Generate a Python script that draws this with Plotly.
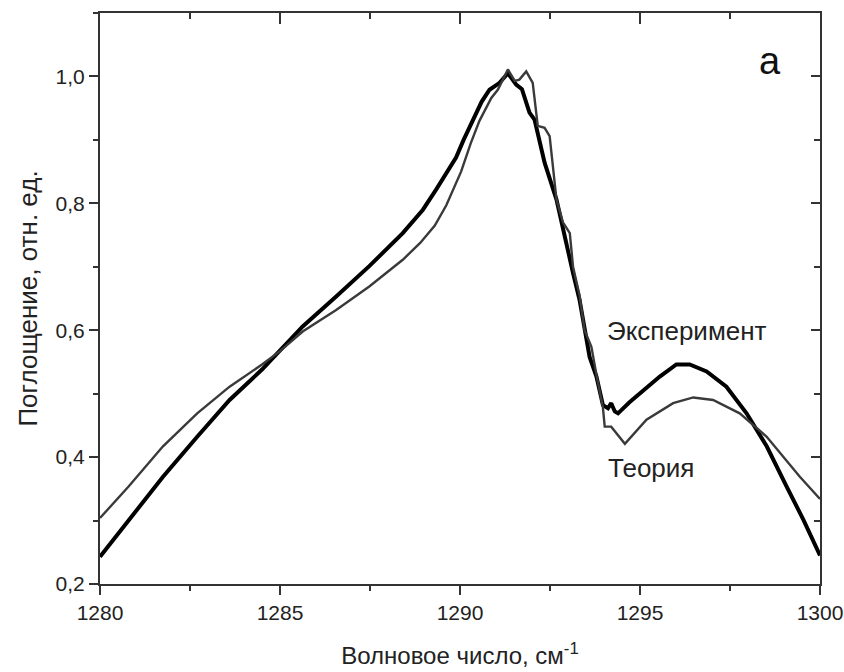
import plotly.graph_objects as go

exp_x = [1280.0, 1280.8, 1281.75, 1282.7, 1283.6, 1284.5, 1285.0, 1285.63, 1286.56, 1287.48,
         1288.41, 1288.97, 1289.34, 1289.6, 1289.89, 1290.1, 1290.36, 1290.6, 1290.82, 1291.1,
         1291.33, 1291.56, 1291.72, 1291.93, 1292.07, 1292.35, 1292.68, 1292.86, 1293.14, 1293.32,
         1293.46, 1293.6, 1293.79, 1293.97, 1294.11, 1294.2, 1294.3, 1294.39, 1294.7, 1295.0,
         1295.55, 1296.01, 1296.38, 1296.85, 1297.4, 1297.96, 1298.52, 1299.07, 1299.55, 1300.0]
exp_y = [0.243, 0.301, 0.369, 0.432, 0.490, 0.538, 0.569, 0.606, 0.653, 0.701,
         0.753, 0.790, 0.822, 0.845, 0.872, 0.900, 0.932, 0.960, 0.979, 0.990,
         1.005, 0.987, 0.980, 0.943, 0.932, 0.864, 0.806, 0.759, 0.690, 0.648,
         0.600, 0.558, 0.527, 0.482, 0.477, 0.485, 0.472, 0.469, 0.486, 0.501,
         0.527, 0.546, 0.546, 0.535, 0.511, 0.469, 0.417, 0.354, 0.300, 0.245]

th_x = [1280.0, 1280.8, 1281.75, 1282.7, 1283.6, 1284.5, 1285.0, 1285.63, 1286.56, 1287.48,
        1288.41, 1288.9, 1289.3, 1289.62, 1290.03, 1290.3, 1290.54, 1290.87, 1291.05, 1291.33,
        1291.52, 1291.65, 1291.84, 1292.02, 1292.16, 1292.35, 1292.49, 1292.58, 1292.68, 1292.86,
        1293.05, 1293.14, 1293.32, 1293.46, 1293.65, 1293.79, 1293.97, 1294.02, 1294.2, 1294.58,
        1295.18, 1295.92, 1296.48, 1297.03, 1297.77, 1298.52, 1299.44, 1300.0]
th_y = [0.304, 0.354, 0.417, 0.469, 0.511, 0.546, 0.567, 0.598, 0.632, 0.669,
        0.711, 0.738, 0.765, 0.797, 0.850, 0.895, 0.930, 0.966, 0.979, 1.011,
        0.993, 0.995, 1.008, 0.990, 0.922, 0.919, 0.906, 0.853, 0.806, 0.770,
        0.753, 0.700, 0.655, 0.600, 0.574, 0.530, 0.478, 0.448, 0.448, 0.421,
        0.459, 0.485, 0.494, 0.490, 0.469, 0.432, 0.369, 0.334]

x_range = [1280, 1300]
y_range = [0.2, 1.1]
x_ticks = [1280, 1285, 1290, 1295, 1300]
y_ticks = [0.2, 0.4, 0.6, 0.8, 1.0]
y_ticktext = ["0,2", "0,4", "0,6", "0,8", "1,0"]

FONT = "Liberation Sans, Arial, sans-serif"
AX = "#333333"

fig = go.Figure()
fig.add_trace(go.Scatter(x=th_x, y=th_y, mode="lines", line=dict(color="#3a3a3a", width=2.4),
                         xaxis="x2", yaxis="y2", name="Теория", showlegend=False))
fig.add_trace(go.Scatter(x=exp_x, y=exp_y, mode="lines", line=dict(color="#000000", width=4),
                         name="Эксперимент", showlegend=False))

fig.update_layout(
    width=844, height=672,
    margin=dict(l=100, r=24, t=13, b=88),
    paper_bgcolor="white", plot_bgcolor="white",
    font=dict(family=FONT, color="#222222"),
    # main x axis: top frame with inward ticks
    xaxis=dict(range=x_range, side="top", tickmode="linear", tick0=1280, dtick=5,
               ticks="inside", ticklen=11, tickwidth=2, tickcolor=AX, showticklabels=False,
               showline=True, linecolor=AX, linewidth=2, showgrid=False, zeroline=False,
               automargin=False,
               minor=dict(tick0=1280, dtick=2.5, ticks="inside", ticklen=6, tickwidth=2, tickcolor=AX)),
    yaxis=dict(range=y_range, tickvals=y_ticks, ticktext=y_ticktext, ticks="outside", ticklen=9,
               tickwidth=2, tickcolor=AX, showline=True, linecolor=AX, linewidth=2, showgrid=False,
               zeroline=False, tickfont=dict(size=21, family=FONT), automargin=False,
               minor=dict(dtick=0.1, tick0=0.2, ticks="outside", ticklen=5, tickwidth=2, tickcolor=AX),
               title=dict(text="Поглощение, отн. ед.", font=dict(size=26, family=FONT), standoff=10)),
    # overlay x axis: bottom, outward ticks with labels
    xaxis2=dict(range=x_range, overlaying="x", side="bottom", anchor="y2", tickvals=x_ticks,
                ticks="outside", ticklen=9, tickwidth=2, tickcolor=AX,
                tickfont=dict(size=21, family=FONT), automargin=False,
                minor=dict(dtick=2.5, tick0=1280, ticks="outside", ticklen=5, tickwidth=2, tickcolor=AX),
                showline=True, linecolor=AX, linewidth=2, showgrid=False, zeroline=False,
                title=dict(text="Волновое число, см<sup>-1</sup>", font=dict(size=24, family=FONT), standoff=24)),
    yaxis2=dict(range=y_range, overlaying="y", side="right", anchor="x2", tickmode="linear",
                tick0=0.2, dtick=0.2, ticks="inside", ticklen=9, tickwidth=2, tickcolor=AX,
                showticklabels=False, automargin=False,
                minor=dict(tick0=0.2, dtick=0.1, ticks="inside", ticklen=6, tickwidth=2, tickcolor=AX),
                showline=True, linecolor=AX, linewidth=2, showgrid=False, zeroline=False),
    annotations=[
        dict(x=1296.3, y=0.598, xref="x", yref="y", text="Эксперимент", showarrow=False,
             font=dict(size=26, family=FONT, color="#222222")),
        dict(x=1295.3, y=0.383, xref="x", yref="y", text="Теория", showarrow=False,
             font=dict(size=26, family=FONT, color="#222222")),
        dict(x=1298.6, y=1.024, xref="x", yref="y", text="a", showarrow=False,
             font=dict(size=38, family=FONT, color="#111111")),
    ],
)

fig.write_html("out.html")
